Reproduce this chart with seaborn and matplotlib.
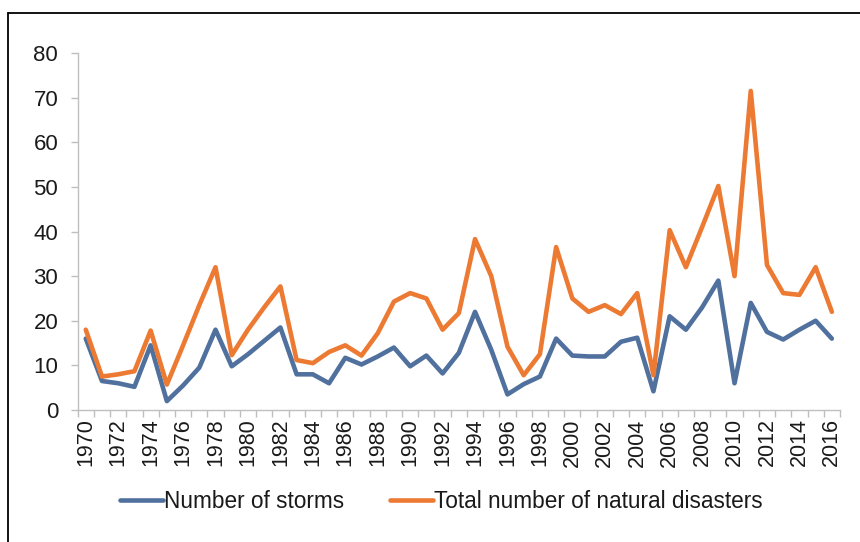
import matplotlib
matplotlib.use('Agg')
import matplotlib.pyplot as plt
from matplotlib.lines import Line2D
import numpy as np
import pandas as pd
import seaborn as sns

# data
years = list(range(1970, 2017))
storms = [16, 6.5, 6, 5.2, 14.5, 2, 5.5, 9.5, 18, 9.8,
          12.5, 15.5, 18.5, 8, 8, 6, 11.7, 10.2, 12, 14,
          9.8, 12.2, 8.2, 12.8, 22, 13.5, 3.5, 5.8, 7.5, 16,
          12.2, 12, 12, 15.3, 16.2, 4.2, 21, 18, 23, 29,
          6, 24, 17.5, 15.8, 18, 20, 16]
disasters = [18, 7.5, 8, 8.7, 17.8, 5.7, 14.5, 23.5, 32, 12.3,
             18, 23, 27.7, 11.2, 10.5, 13, 14.5, 12.2, 17.2, 24.3,
             26.2, 25, 18, 21.7, 38.3, 30, 14.2, 7.8, 12.5, 36.5,
             25, 22, 23.5, 21.5, 26.2, 7.8, 40.3, 32, 41, 50.2,
             30, 71.5, 32.5, 26.2, 25.8, 32, 22]
series_names = ['Number of storms', 'Total number of natural disasters']
colors = ['#50709e', '#ec7a33']
y_ticks = list(range(0, 90, 10))

sns.set_style('white')
plt.rcParams['font.family'] = ['Liberation Sans', 'DejaVu Sans']

df = pd.DataFrame({
    'year': years * 2,
    'value': storms + disasters,
    'series': [series_names[0]] * len(years) + [series_names[1]] * len(years),
})

fig = plt.figure(figsize=(8.6, 5.42), dpi=100)
ax = fig.add_axes([0.0903, 0.2435, 0.8864, 0.6587])

sns.lineplot(data=df, x='year', y='value', hue='series', hue_order=series_names,
             palette=colors, linewidth=3.3, ax=ax, legend=False,
             solid_joinstyle='round', solid_capstyle='round')

grey = '#bfbfbf'
ax.set_xlim(years[0] - 0.5, years[-1] + 0.5)
ax.set_ylim(0, 80)
ax.set_yticks(y_ticks)
ax.set_xticks(years[::2])
ax.set_xticklabels([str(y) for y in years[::2]], rotation=90)
ax.set_xticks(np.arange(years[0] - 0.5, years[-1] + 1), minor=True)
ax.tick_params(axis='x', which='major', length=0, pad=6, labelsize=15.5, labelcolor='#1a1a1a')
ax.tick_params(axis='x', which='minor', length=5, width=1, color=grey, direction='out', bottom=True)
ax.tick_params(axis='y', length=5, width=1, color=grey, direction='out', left=True,
               labelsize=16, labelcolor='#1a1a1a', pad=9)
ax.set_xlabel('')
ax.set_ylabel('')
for side in ['top', 'right']:
    ax.spines[side].set_visible(False)
for side in ['left', 'bottom']:
    ax.spines[side].set_color(grey)
    ax.spines[side].set_linewidth(1)

handles = [Line2D([0], [0], color=c, lw=3.3) for c in colors]
fig.legend(handles, series_names, loc='center', bbox_to_anchor=(0.513, 0.0756),
           ncol=2, frameon=False, fontsize=16.3, handlelength=1.9,
           handletextpad=0.05, columnspacing=2.0, labelcolor='#1a1a1a')

# outer chart border (only top and left are visible in the crop)
fig.add_artist(Line2D([8 / 860, 8 / 860], [0, 1 - 13 / 542], transform=fig.transFigure,
                      color='black', lw=1.3))
fig.add_artist(Line2D([8 / 860, 1], [1 - 13 / 542, 1 - 13 / 542], transform=fig.transFigure,
                      color='black', lw=1.3))

fig.savefig('out.png', dpi=100)
